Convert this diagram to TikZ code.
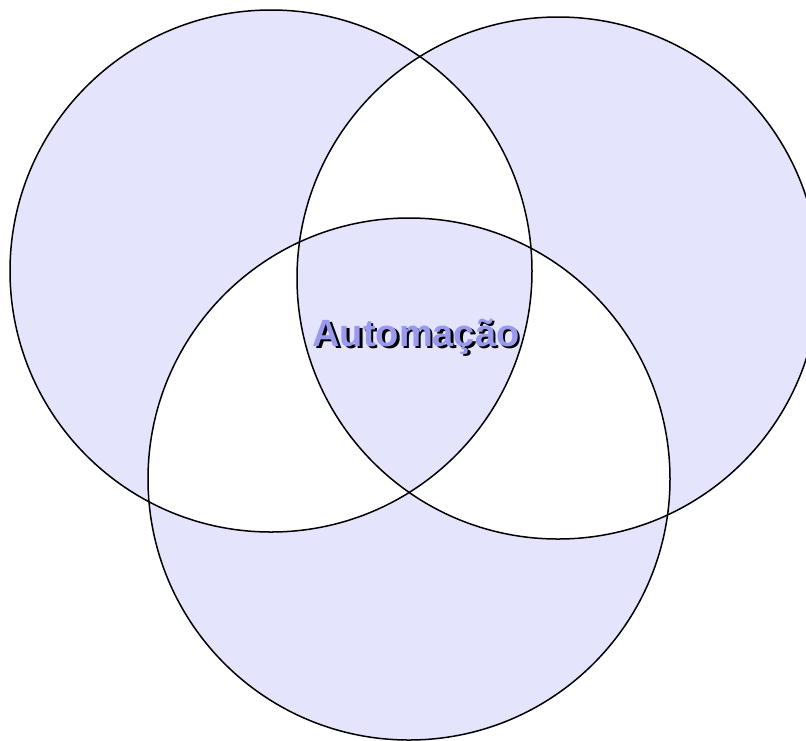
\documentclass[tikz,border=0pt]{standalone}
\usepackage{fontspec}
\setsansfont{Liberation Sans}
\definecolor{vennfill}{HTML}{E4E4FC}
\definecolor{titleblue}{HTML}{9999EE}
\begin{document}
\begin{tikzpicture}[
        x=1pt, y=-1pt,
        ring/.style={draw=black, line width=1.5pt},
        titletext/.style={font=\sffamily\bfseries\fontsize{38}{40}\selectfont, inner sep=0pt, anchor=base}
        ]
        \useasboundingbox (0,0) rectangle (806,740);
        \clip (0,0) rectangle (806,740);

        % centres of the three sets
        \coordinate (left) at (271,271);
        \coordinate (right) at (558,278);
        \coordinate (bottom) at (409,479);

        % odd regions filled, pairwise overlaps left white
        \fill[vennfill, even odd rule] (left) circle[radius=261pt] (right) circle[radius=261pt] (bottom) circle[radius=261pt];
        \draw[ring] (left) circle[radius=261pt];
        \draw[ring] (right) circle[radius=261pt];
        \draw[ring] (bottom) circle[radius=261pt];

        % title with its drop shadow
        \node[titletext, text=black] (shadow) at (418.5,348.5) {Automação};
        \node[titletext, text=titleblue] (title) at (416,346) {Automação};

    \end{tikzpicture}
\end{document}
